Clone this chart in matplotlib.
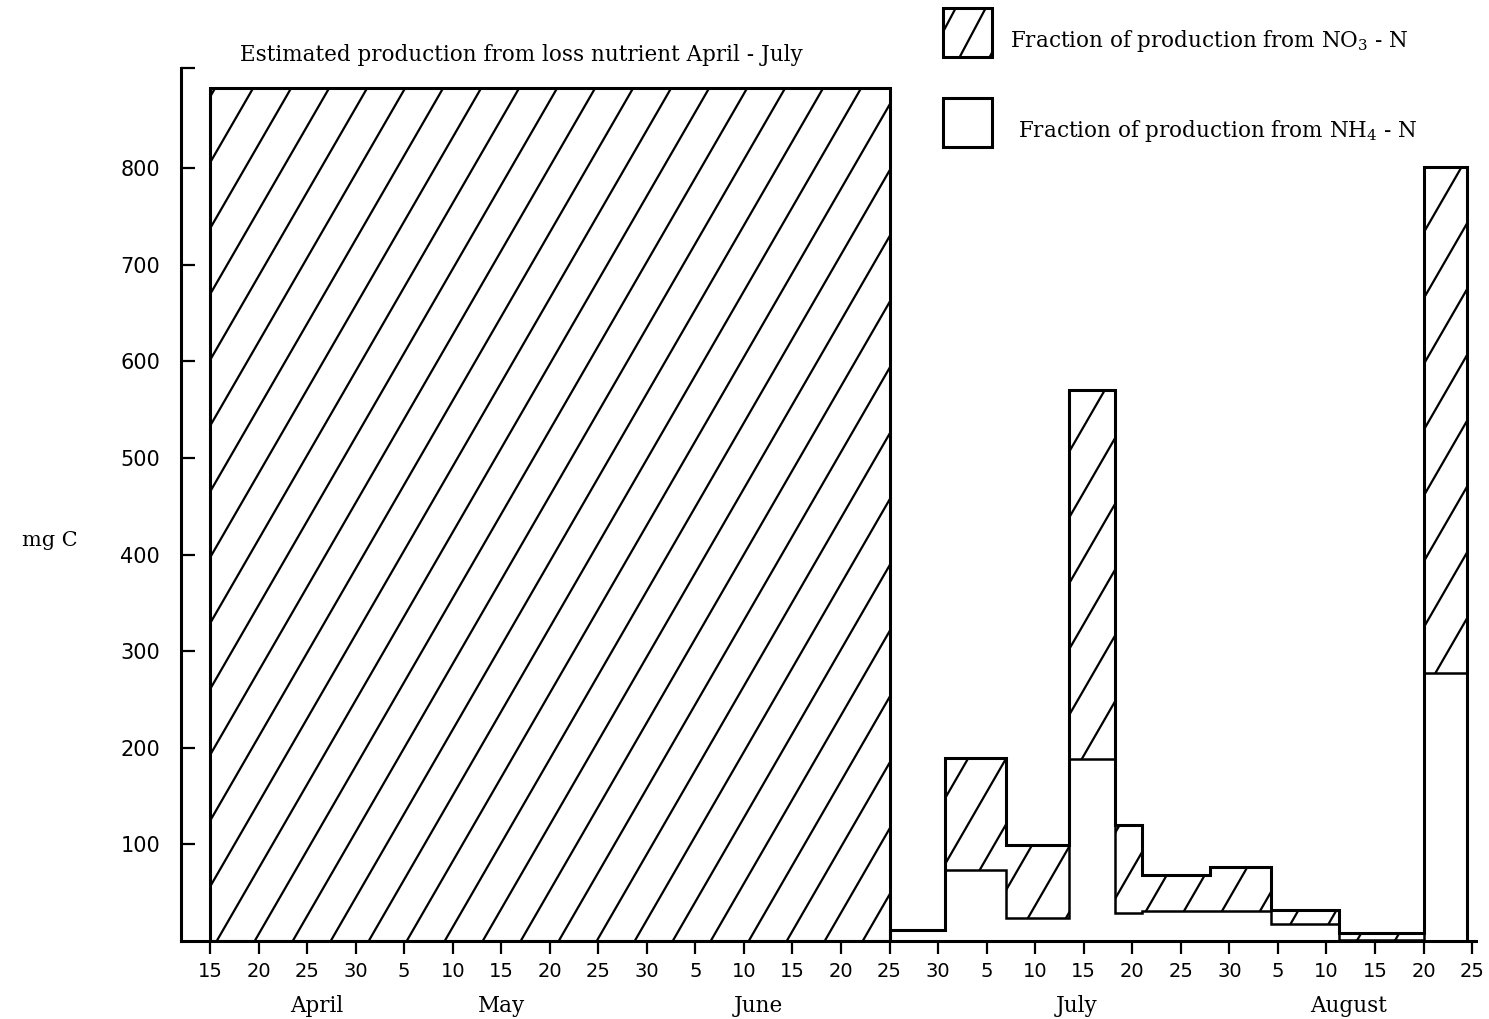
import numpy as np
import matplotlib
matplotlib.use("Agg")
import matplotlib.pyplot as plt
from matplotlib.collections import LineCollection
from matplotlib.patches import Rectangle
from matplotlib.transforms import IdentityTransform

# x axis is in 5-day steps, 0 = 15 April
tick_labels = ["15", "20", "25", "30", "5", "10", "15", "20", "25", "30",
               "5", "10", "15", "20", "25", "30", "5", "10", "15", "20",
               "25", "30", "5", "10", "15", "20", "25"]
months = ["April", "May", "June", "July", "August"]
month_pos = [2.2, 6.0, 11.3, 17.85, 23.45]

# estimated production from loss nutrient, April - July
loss_start, loss_end = 0, 14
loss_value = 883

# measured production, July - August (step segments)
edges = [14, 15.15, 16.4, 17.7, 18.65, 19.2, 20.6, 21.85, 23.25, 25.0, 25.9]
total = [11, 189, 99, 570, 120, 68, 77, 32, 8, 801]
nh4 = [11, 73, 24, 188, 29, 31, 31, 18, 1, 277]

y_ticks = [100, 200, 300, 400, 500, 600, 700, 800]

SERIF = "DejaVu Serif"
plt.rcParams["mathtext.fontset"] = "dejavuserif"

W, H = 1489, 1019
fig = plt.figure(figsize=(W / 100, H / 100), dpi=100)
ax = fig.add_axes([181 / W, (H - 941) / H, (1476 - 181) / W, (941 - 68) / H])

x_lo = (181 - 210) / 48.54
x_hi = (1476 - 210) / 48.54
y_hi = (941 - 68) / 0.966
ax.set_xlim(x_lo, x_hi)
ax.set_ylim(0, y_hi)


def add_hatch(clip, container, spacing=38, angle=60, lw=1.6):
    """Draw steep '/' hatching in pixel space, clipped to a patch."""
    dx = H / np.tan(np.radians(angle))
    starts = np.arange(-dx - spacing, W + spacing, spacing)
    segs = [[(x, 0), (x + dx, H)] for x in starts]
    lc = LineCollection(segs, colors="black", linewidths=lw,
                        transform=IdentityTransform(), zorder=2)
    if container is ax:
        ax.add_collection(lc, autolim=False)
    else:
        fig.add_artist(lc)
    lc.set_clip_path(clip)
    return lc


# big hatched block
bars = ax.bar(loss_start, loss_value, width=loss_end - loss_start, align="edge",
              facecolor="none", edgecolor="black", linewidth=2.2, zorder=3)
add_hatch(bars[0], ax)

# NO3 fraction = region between NH4 and total
region = ax.stairs(total, edges, baseline=nh4, fill=True,
                   facecolor="none", edgecolor="none", linewidth=0)
add_hatch(region, ax)
ax.stairs(total, edges, baseline=0, color="black", linewidth=2.2, zorder=3)
ax.stairs(nh4, edges, baseline=0, color="black", linewidth=1.8, zorder=3)

# axes styling
for side in ["top", "right"]:
    ax.spines[side].set_visible(False)
ax.spines["left"].set_linewidth(2.2)
ax.spines["bottom"].set_linewidth(2.2)

ax.set_yticks(y_ticks + [y_hi])
ax.set_yticklabels([str(v) for v in y_ticks] + [""])
ax.tick_params(axis="y", direction="in", length=10, width=1.6, pad=15,
               labelsize=15)
ax.set_xticks(range(len(tick_labels)))
ax.set_xticklabels(tick_labels)
ax.tick_params(axis="x", which="major", direction="out", length=9, width=1.6,
               pad=6, labelsize=14)
ax.xaxis.remove_overlapping_locs = False
ax.set_xticks(month_pos, minor=True)
ax.set_xticklabels(months, minor=True, fontfamily=SERIF, fontsize=15.5)
ax.tick_params(axis="x", which="minor", length=0, pad=39)

ax.text(-0.101, 0.459, "mg C", transform=ax.transAxes, ha="center",
        va="center", fontfamily=SERIF, fontsize=15)
ax.text(0.263, 1.015, "Estimated production from loss nutrient April - July",
        transform=ax.transAxes, ha="center", va="center",
        fontfamily=SERIF, fontsize=15.5, clip_on=False)

# legend drawn by hand so the hatch matches
for top, hatched, label, tx in [
    (8, True, "Fraction of production from NO$_3$ - N", 1010),
    (98, False, "Fraction of production from NH$_4$ - N", 1018),
]:
    box = Rectangle((943 / W, (H - top - 49) / H), 49 / W, 49 / H,
                    transform=fig.transFigure, facecolor="none",
                    edgecolor="black", linewidth=2.2, zorder=3)
    fig.add_artist(box)
    if hatched:
        add_hatch(box, fig, spacing=30, angle=62)
    fig.text(tx / W, (H - top - 33) / H, label, ha="left", va="center",
             fontfamily=SERIF, fontsize=15.5)

fig.savefig("out.png", dpi=100)
